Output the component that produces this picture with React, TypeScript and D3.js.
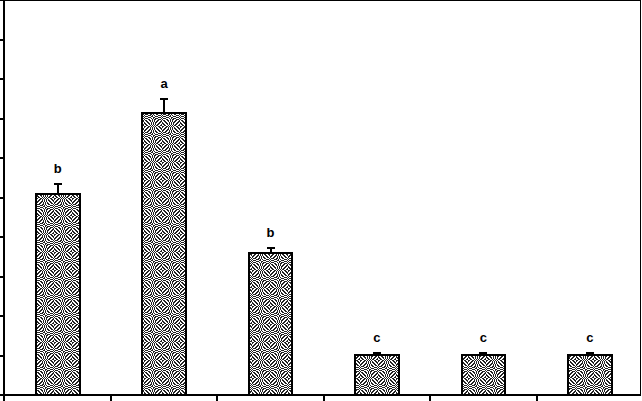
import * as d3 from "d3";

// bar values (axis 0-10)
const groups = ["G1", "G2", "G3", "G4", "G5", "G6"];
const means = [5.1, 7.15, 3.6, 1.01, 1.01, 1.01];
const errors = [0.25, 0.34, 0.13, 0.05, 0.05, 0.05];
const letters = ["b", "a", "b", "c", "c", "c"];
const yTicks = [0, 1, 2, 3, 4, 5, 6, 7, 8, 9, 10];

const width = 642;
const height = 401;
const baseY = 395;
const axisX = 4;

// tile of the dithered fill: checkerboard with phase shifts on octagonal rings
const tile = 18;
const tilePixels: { x: number; y: number }[] = [];
for (let j = 0; j < tile; j++) {
  for (let i = 0; i < tile; i++) {
    const dx = Math.abs(i + 0.5 - tile / 2);
    const dy = Math.abs(j + 0.5 - tile / 2);
    const d = Math.max(dx, dy, (dx + dy) * 0.72);
    if ((i + j + Math.floor(d / 1.5)) % 2 === 0) tilePixels.push({ x: i, y: j });
  }
}

export default function App() {
  const x = d3
    .scaleBand<string>()
    .domain(groups)
    .range([4.5, 643])
    .paddingInner(0.59)
    .paddingOuter(0.295);

  const y = d3.scaleLinear().domain([0, 10]).range([baseY, 0]);

  const step = x.step();
  const boundaries = groups.slice(1).map((g) => (x(g) ?? 0) - (step - x.bandwidth()) / 2);

  return (
    <svg
      width={width}
      height={height}
      style={{ position: "absolute", left: 0, top: 0, background: "white" }}
      shapeRendering="crispEdges"
    >
      <defs>
        <pattern id="dither" width={tile} height={tile} patternUnits="userSpaceOnUse">
          <rect width={tile} height={tile} fill="white" />
          {tilePixels.map((p, i) => (
            <rect key={i} x={p.x} y={p.y} width={1} height={1} fill="#222" />
          ))}
        </pattern>
      </defs>

      {/* frame */}
      <line x1={axisX} x2={641} y1={0.5} y2={0.5} stroke="black" strokeWidth={1.5} />
      <line x1={640.5} x2={640.5} y1={0} y2={baseY} stroke="black" strokeWidth={1.5} />

      {/* bars */}
      {groups.map((g, i) => {
        const bx = x(g) ?? 0;
        const cx = bx + x.bandwidth() / 2;
        const top = y(means[i]);
        const errTop = y(means[i] + errors[i]);
        return (
          <g key={g}>
            <rect
              x={bx}
              y={top}
              width={x.bandwidth()}
              height={baseY - top}
              fill="url(#dither)"
              stroke="black"
              strokeWidth={2}
            />
            <line x1={cx} x2={cx} y1={top} y2={errTop} stroke="black" strokeWidth={2} />
            <line x1={cx - 4} x2={cx + 4} y1={errTop} y2={errTop} stroke="black" strokeWidth={2} />
            <text
              x={cx}
              y={errTop - 11}
              textAnchor="middle"
              fontFamily="Liberation Sans, Arial, sans-serif"
              fontWeight="bold"
              fontSize={13}
            >
              {letters[i]}
            </text>
          </g>
        );
      })}

      {/* y axis */}
      <line x1={axisX} x2={axisX} y1={0} y2={baseY + 1} stroke="black" strokeWidth={2} />
      {yTicks.map((t) => (
        <line key={t} x1={0} x2={axisX} y1={y(t)} y2={y(t)} stroke="black" strokeWidth={2} />
      ))}

      {/* x axis */}
      <line x1={axisX - 1} x2={641} y1={baseY} y2={baseY} stroke="black" strokeWidth={2} />
      {[axisX, ...boundaries].map((bx, i) => (
        <line key={i} x1={bx} x2={bx} y1={baseY} y2={height} stroke="black" strokeWidth={2} />
      ))}
    </svg>
  );
}
